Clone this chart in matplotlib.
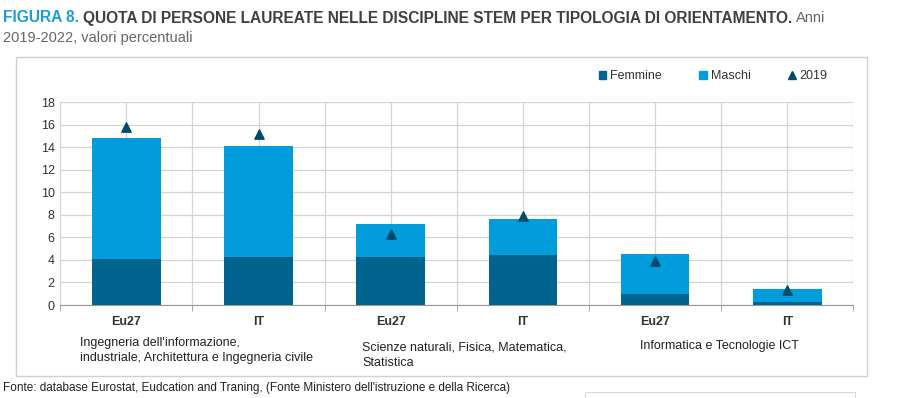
import matplotlib.pyplot as plt
import matplotlib.patches as mpatches
from matplotlib.lines import Line2D
import numpy as np

plt.rcParams['font.family'] = ['Liberation Sans Narrow', 'Liberation Sans', 'DejaVu Sans']

paesi = ['Eu27', 'IT', 'Eu27', 'IT', 'Eu27', 'IT']
femmine = [4.1, 4.3, 4.3, 4.4, 1.0, 0.3]
totale = [14.8, 14.1, 7.2, 7.6, 4.5, 1.4]
anno_2019 = [15.8, 15.2, 6.3, 7.9, 3.9, 1.3]
gruppi = ["Ingegneria dell'informazione,\nindustriale, Architettura e Ingegneria civile",
          "Scienze naturali, Fisica, Matematica,\nStatistica",
          "Informatica e Tecnologie ICT"]

maschi = [t - f for t, f in zip(totale, femmine)]

c_fem = '#00648f'
c_mas = '#009cdc'
c_tri = '#004a6e'

fig = plt.figure(figsize=(9.05, 3.98), dpi=100)
W, H = 905, 398

# box round the chart
fig.add_artist(mpatches.Rectangle((16 / W, 1 - 376 / H), (867 - 16) / W, (376 - 57) / H,
                                  transform=fig.transFigure, fill=False, ec='#d0d0d0', lw=1))
# stray box bottom right
fig.add_artist(mpatches.Rectangle((585 / W, 0), (855 - 585) / W, 6 / H,
                                  transform=fig.transFigure, fill=False, ec='#d8d8d8', lw=0.8))

ax = fig.add_axes([60.3 / W, 1 - 305 / H, 793 / W, 202.7 / H])
x = np.arange(len(paesi))
ax.bar(x, femmine, width=0.52, color=c_fem, zorder=3, label='Femmine')
ax.bar(x, maschi, width=0.52, bottom=femmine, color=c_mas, zorder=3, label='Maschi')
ax.scatter(x, anno_2019, marker='^', s=45, color=c_tri, zorder=4, label='2019')

ax.set_xlim(-0.5, len(paesi) - 0.5)
ax.set_ylim(0, 18)
ax.set_yticks(range(0, 19, 2))
ax.set_xticks(x)
ax.set_xticklabels(paesi, fontweight='bold', fontsize=9, color='#333333')
ax.set_xticks(np.arange(-0.5, len(paesi), 1), minor=True)
ax.tick_params(axis='x', which='major', length=0, pad=8)
ax.tick_params(axis='x', which='minor', length=4, color='#999999')
ax.tick_params(axis='y', length=0, labelsize=9, colors='#333333', pad=4)
ax.set_axisbelow(True)
ax.grid(True, which='major', color='#d4d4d4', lw=0.9)
ax.grid(True, which='minor', axis='x', color='#d4d4d4', lw=0.9)
for s in ['top', 'right']:
    ax.spines[s].set_visible(False)
ax.spines['bottom'].set_color('#999999')
ax.spines['left'].set_color('#d4d4d4')

handles = [mpatches.Patch(color=c_fem), mpatches.Patch(color=c_mas),
           Line2D([], [], marker='^', ls='none', color=c_tri, markersize=6)]
fig.legend(handles, ['Femmine', 'Maschi', '2019'], loc='center', ncol=3, frameon=False,
           bbox_to_anchor=(713 / W, 1 - 76 / H), fontsize=9, handlelength=0.6, handleheight=0.6,
           handletextpad=0.3, columnspacing=3.0, labelcolor='#333333')

gx = [80, 362, 640]
gy = [337, 342, 340]
for g, xx, yy in zip(gruppi, gx, gy):
    fig.text(xx / W, 1 - yy / H, g, fontsize=9, color='#222222', va='top', ha='left',
             linespacing=1.3)

fig.text(3 / W, 1 - 388 / H,
         "Fonte: database Eurostat, Eudcation and Traning, (Fonte Ministero dell'istruzione e della Ricerca)",
         fontsize=8.5, color='#222222', va='center')

# title in pieces
fig.canvas.draw()
r = fig.canvas.get_renderer()
ty = 1 - 18 / H
t1 = fig.text(3 / W, ty, 'FIGURA 8.', fontsize=11.2, fontweight='bold', color='#1a9fd4', va='center')
bb = t1.get_window_extent(r)
t2 = fig.text((bb.x1 + 4) / W, ty,
              'QUOTA DI PERSONE LAUREATE NELLE DISCIPLINE STEM PER TIPOLOGIA DI ORIENTAMENTO.',
              fontsize=11.2, fontweight='bold', color='#404040', va='center')
bb = t2.get_window_extent(r)
fig.text((bb.x1 + 4) / W, ty, 'Anni', fontsize=10.5, color='#666666', va='center')
fig.text(3 / W, 1 - 38 / H, '2019-2022, valori percentuali', fontsize=10.5, color='#666666', va='center')

fig.savefig('out.png', dpi=100)
